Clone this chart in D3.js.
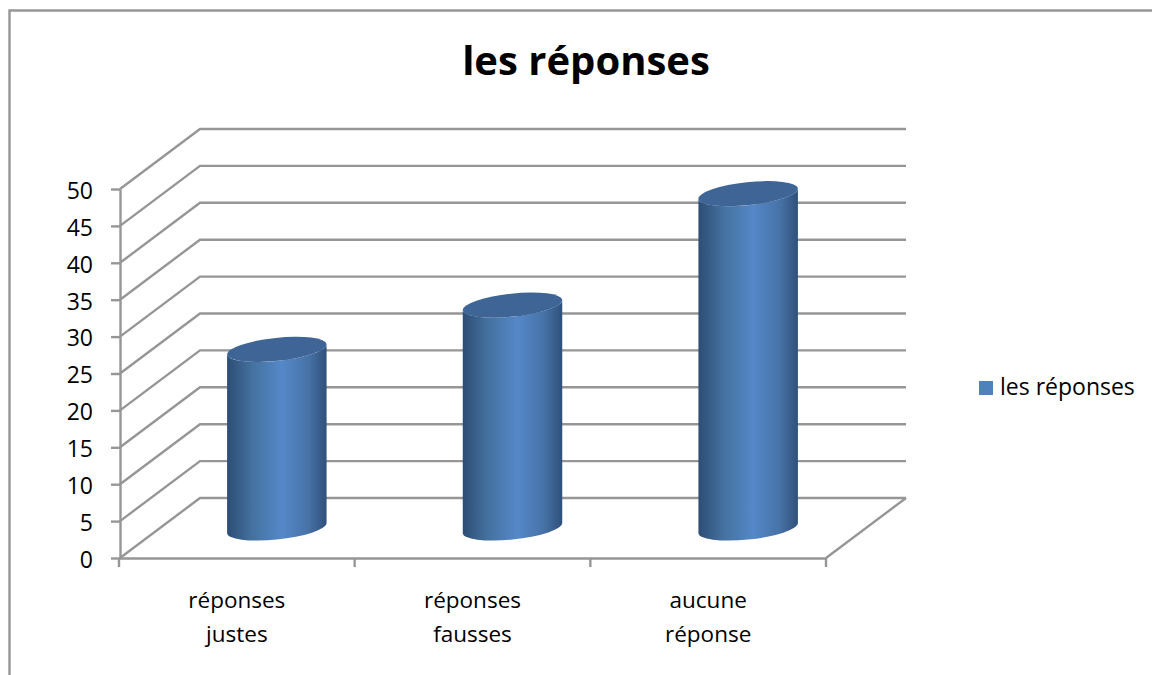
<!DOCTYPE html>
<html>
<head>
<meta charset="utf-8">
<script src="https://cdn.jsdelivr.net/npm/d3@7"></script>
<style>
  html, body { margin: 0; padding: 0; background: #fff; }
  svg { display: block; font-family: "Open Sans", sans-serif; }
</style>
</head>
<body>
<div id="chart"></div>
<script>
const chartTitle = "les réponses";
const seriesName = "les réponses";
const categories = ["réponses justes", "réponses fausses", "aucune réponse"];
const values = [24.2, 30.2, 45.3];
const yTicks = [0, 5, 10, 15, 20, 25, 30, 35, 40, 45, 50];

const width = 1152, height = 675;
const plotLeft = 120, plotRight = 826, plotTop = 189, plotBottom = 558;
const depthX = 80, depthY = -60;   // shift of the back wall
const gridColor = "#969696";
const lineWidth = 2.4;

const svg = d3.select("#chart").append("svg").attr("width", width).attr("height", height);

const x = d3.scaleBand().domain(categories).range([plotLeft - 1, plotRight]);
const y = d3.scaleLinear().domain([0, 50]).range([plotBottom, plotTop]);

// cylinder shading
const defs = svg.append("defs");
const grad = defs.append("linearGradient").attr("id", "side").attr("x1", 0).attr("x2", 1).attr("y1", 0).attr("y2", 0);
grad.append("stop").attr("offset", "0%").attr("stop-color", "#2d4d75");
grad.append("stop").attr("offset", "25%").attr("stop-color", "#44719f");
grad.append("stop").attr("offset", "55%").attr("stop-color", "#5588c8");
grad.append("stop").attr("offset", "82%").attr("stop-color", "#4672a6");
grad.append("stop").attr("offset", "100%").attr("stop-color", "#30507a");

// chart frame, only top and left show
svg.append("path")
  .attr("d", `M9.5,${height} V10.5 H${width}`)
  .attr("fill", "none").attr("stroke", gridColor).attr("stroke-width", lineWidth);

// walls
const grid = svg.append("g").attr("fill", "none").attr("stroke", gridColor).attr("stroke-width", lineWidth);
grid.selectAll("path.wall").data(yTicks).join("path")
  .attr("class", "wall")
  .attr("d", d => `M${plotLeft},${y(d)} L${plotLeft + depthX},${y(d) + depthY} H${plotRight + depthX}`);
grid.append("path")
  .attr("d", `M${plotRight},${y(0)} L${plotRight + depthX},${y(0) + depthY}`);

// axes
const yAxis = svg.append("g")
  .attr("transform", `translate(${plotLeft},0)`)
  .call(d3.axisLeft(y).tickValues(yTicks).tickSize(9).tickPadding(18).tickSizeOuter(0));
const xAxis = svg.append("g")
  .attr("transform", `translate(0,${plotBottom})`)
  .call(d3.axisBottom(x).tickSize(0).tickFormat(""));
svg.selectAll(".domain").attr("stroke", gridColor).attr("stroke-width", lineWidth);
yAxis.selectAll(".tick line").attr("stroke", gridColor).attr("stroke-width", lineWidth);
yAxis.selectAll(".tick text")
  .attr("font-size", 23).attr("fill", "#000").attr("font-family", "Open Sans")
  .attr("y", 2);

// x ticks sit on the band edges
const xEdges = categories.map(c => x(c)).concat(x(categories[2]) + x.bandwidth());
xAxis.selectAll("line.edge").data(xEdges).join("line")
  .attr("class", "edge")
  .attr("x1", d => d).attr("x2", d => d)
  .attr("y1", 0).attr("y2", 9)
  .attr("stroke", gridColor).attr("stroke-width", lineWidth);

const labels = svg.append("g").attr("font-size", 22.5).attr("fill", "#000").attr("text-anchor", "middle");
labels.selectAll("text").data(categories).join("text")
  .attr("y", 608)
  .each(function(d) {
    const cx = x(d) + x.bandwidth() / 2;
    d3.select(this).selectAll("tspan").data(d.split(" ")).join("tspan")
      .attr("x", cx)
      .attr("dy", (t, i) => i ? 34 : 0)
      .text(t => t);
  });

// cylinders, standing halfway into the depth
const rx = 50, ry = 11.5, tilt = -6 * Math.PI / 180;
const halfW = Math.sqrt(rx * rx * Math.cos(tilt) ** 2 + ry * ry * Math.sin(tilt) ** 2);
const edgeDy = (rx * rx - ry * ry) * Math.sin(tilt) * Math.cos(tilt) / halfW;
const deg = tilt * 180 / Math.PI;

const bars = svg.append("g").selectAll("g").data(categories).join("g");
bars.each(function(c, i) {
  const cx = x(c) + x.bandwidth() / 2 + depthX / 2;
  const yTop = y(values[i]) + depthY / 2;
  const yBase = y(0) + depthY / 2;
  const g = d3.select(this);
  g.append("path")
    .attr("fill", "url(#side)")
    .attr("d", `M${cx - halfW},${yTop - edgeDy} L${cx - halfW},${yBase - edgeDy}
      A${rx},${ry} ${deg} 0 0 ${cx + halfW},${yBase + edgeDy}
      L${cx + halfW},${yTop + edgeDy}
      A${rx},${ry} ${deg} 0 1 ${cx - halfW},${yTop - edgeDy} Z`);
  g.append("ellipse")
    .attr("rx", rx).attr("ry", ry)
    .attr("transform", `translate(${cx},${yTop}) rotate(${deg})`)
    .attr("fill", "#3e6596");
});

// title
svg.append("text")
  .attr("x", 586).attr("y", 75)
  .attr("text-anchor", "middle")
  .attr("font-size", 40).attr("font-weight", 700).attr("fill", "#000")
  .text(chartTitle);

// legend
svg.append("rect").attr("x", 979).attr("y", 381).attr("width", 14).attr("height", 14).attr("fill", "#4f81bd");
svg.append("text").attr("x", 1000).attr("y", 395).attr("font-size", 23).attr("fill", "#000").text(seriesName);
</script>
</body>
</html>
